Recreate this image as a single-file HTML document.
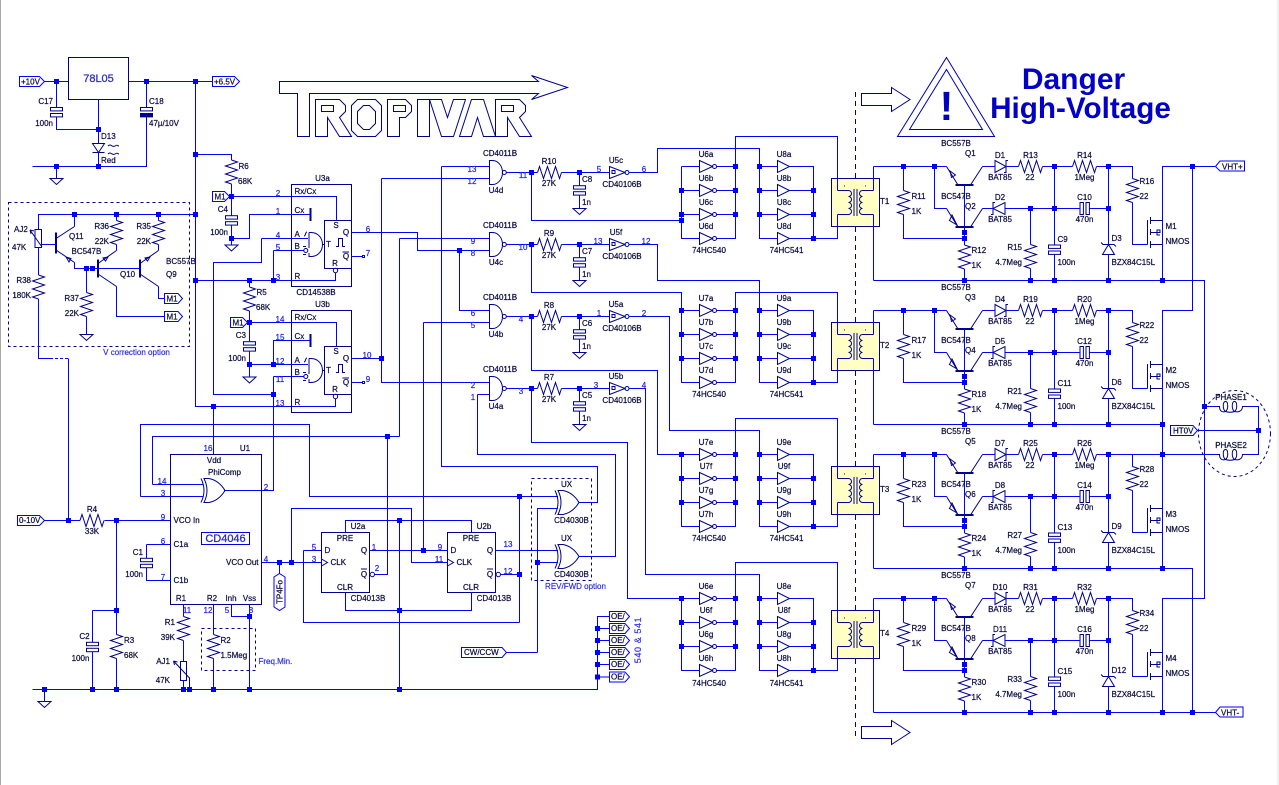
<!DOCTYPE html>
<html><head><meta charset="utf-8"><title>Tropivar schematic</title>
<style>
html,body{margin:0;padding:0;background:#fff}
svg{display:block}
text{font-family:"Liberation Sans",sans-serif;font-size:8px;fill:#0c0c40;stroke:#0c0c40;stroke-width:.22px}
.m{text-anchor:middle}.e{text-anchor:end}
.p text,text.p{fill:#2525e0;stroke:#2525e0}
text.b{fill:#3535e0;stroke:#3535e0}
.w{stroke:#00f;fill:none}
.c{stroke:#00008c;fill:none}
.cw{stroke:#00008c;fill:#fff}
.t{stroke:#00f;fill:#fff}
.d{stroke:#00f;stroke-width:5;stroke-linecap:square;fill:none}
.h{stroke:#00008c;stroke-dasharray:3 3;fill:none}
</style></head><body>
<svg xmlns="http://www.w3.org/2000/svg" width="1279" height="785" viewBox="0 0 1279 785">
<defs>
<path id="rh" class="c" d="M0 0l2-6 4 12 4-12 4 12 4-12 4 12 2-6"/>
<path id="rv" class="c" d="M0 0l6 2-12 4 12 4-12 4 12 4-12 4 6 2"/>
<g id="cv"><rect class="c" x="-6" y="0" width="12" height="3.4"/><rect class="c" x="-6" y="6" width="12" height="3.4"/></g>
<path id="g" class="c" d="M-6.5 0H6.5L0 6Z"/>
<g id="nand"><path class="c" d="M0 0H3C9 0 13 6 13 12S9 24 3 24H0Z"/><circle class="c" cx="14.8" cy="12" r="2"/></g>
<g id="inv"><path class="c" d="M0-6L13 0 0 6Z"/><circle class="c" cx="15" cy="0" r="2"/></g>
<path id="buf" class="c" d="M0-6L12 0 0 6Z"/>
<g id="sch"><path class="c" d="M0-6L15.5 0 0 6Z"/><rect class="c" x="2.5" y="-2" width="3" height="3"/><circle class="c" cx="17.5" cy="0" r="2"/></g>
<g id="xor"><path class="c" d="M0-12Q6 0 0 12M3-12H8Q18-10 24 0 18 10 8 12H3Q9 0 3-12Z"/></g>
<path id="oe" class="t" d="M609.5 611.5H625L629.5 616.5 625 621.5H609.5Z"/>
<path id="coil" class="c" d="M0 0H3C3 5 6 6 9 5 12 3 12-5 9-5 6-5 6 3 9 5 12 6 15 6 18 5 21 3 21-5 18-5 15-5 15 3 18 5 21 6 26 5 26 0H29"/>
<g id="nr">
<use href="#nand" x="489.5" y="160.5"/>
<use href="#rh" x="537.5" y="172.5"/>
<use href="#cv" x="579.5" y="185.7"/>
<use href="#g" x="579.5" y="208.5"/>
<use href="#sch" x="609.5" y="172.5"/>
<path class="w" d="M506.5 172.5H537.5M561.5 172.5H609.5M579.5 172.5V185.7M579.5 195V208.5"/>
<path class="d" d="M531.5 172.5h0M579.5 172.5h0"/>
</g>
<g id="bg">
<use href="#inv" x="699.5" y="0"/><use href="#inv" x="699.5" y="24"/><use href="#inv" x="699.5" y="48"/><use href="#inv" x="699.5" y="72"/>
<use href="#buf" x="777.5" y="0"/><use href="#buf" x="777.5" y="24"/><use href="#buf" x="777.5" y="48"/><use href="#buf" x="777.5" y="72"/>
<path class="w" d="M681.5 0V72H699.5M681.5 0H699.5M681.5 24H699.5M681.5 48H699.5M716.5 0H735.5V72H716.5M716.5 24H735.5M716.5 48H735.5M759.5 0V72H777.5M759.5 0H777.5M759.5 24H777.5M759.5 48H777.5M789.5 0H813.5V72H789.5M789.5 24H813.5M789.5 48H813.5M813.5 72H837.5V48"/>
<path class="d" d="M681.5 24h0M681.5 48h0M735.5 0h0M735.5 24h0M735.5 48h0M759.5 0h0M759.5 24h0M759.5 48h0M813.5 24h0M813.5 48h0M813.5 72h0"/>
</g>
<g id="tr">
<rect x="831.5" y="178.5" width="48" height="48" fill="#ffffc4" stroke="#00008c"/>
<path class="c" d="M837.5 190.5H848.5M837.5 214.5H848.5M862.5 190.5H873.5M862.5 214.5H873.5"/>
<path class="c" d="M848.5 190.5a3 3 0 0 1 0 6a3 3 0 0 1 0 6a3 3 0 0 1 0 6a3 3 0 0 1 0 6M862.5 190.5a3 3 0 0 0 0 6a3 3 0 0 0 0 6a3 3 0 0 0 0 6a3 3 0 0 0 0 6"/>
<path class="c" d="M854 189V216M857 189V216M844 186h1M865 186h1"/>
<path class="w" d="M837.5 178.5V190.5M837.5 214.5V226.5M873.5 178.5V190.5M873.5 214.5V226.5"/>
</g>
<g id="qr">
<path class="c" d="M946.5 166.5L958 185M970.5 185L982.5 166.5M946.5 208.5L958 227M970.5 227L982.5 208.5"/>
<path class="c" stroke-width="2" d="M955.5 185H973.5M955.5 227H973.5"/>
<path class="c" d="M950 171L955.5 175 951.5 177.5ZM952 215L957 225 949.5 220.5Z"/>
<use href="#rh" x="1018.5" y="166.5"/><use href="#rh" x="1072.5" y="166.5"/>
<use href="#rv" x="1132.5" y="178.5"/><use href="#rv" x="903.5" y="190.5"/><use href="#rv" x="964.5" y="245"/><use href="#rv" x="1030.5" y="244.5"/>
<use href="#cv" x="1054.5" y="245"/>
<path class="c" d="M995 160.5V172.5L1006 166.5ZM1008 160.5H1006V172.5H1004M1005 202.5V214.5L993 208.5ZM991 214.5H993V202.5H995"/>
<path class="c" d="M1080 202.5h3.4v12h-3.4zM1086 202.5h3.4v12h-3.4zM1102.5 254.5H1114.5L1108.5 244.5ZM1101 242.5L1103 244.5H1114L1116 246.5"/>
<path class="c" d="M1147.5 220V244.5M1150.5 217V224M1150.5 229V235M1150.5 241V248M1150.5 220.5H1162.5M1150.5 232.5H1160V230H1157V235H1160M1150.5 244.5H1162.5"/>
<path class="w" d="M873.5 166.5H946.5M982.5 166.5H995M1006 166.5H1018.5M1042.5 166.5H1072.5M1096.5 166.5H1132.5V178.5M1132.5 202.5V244.5H1147.5M903.5 166.5V190.5M903.5 214.5V238.5H964.5M934.5 166.5V208.5H946.5M964.5 185V245M964.5 269V280.5M982.5 208.5H993M1005 208.5H1080M1089.5 208.5H1108.5M1030.5 208.5V244.5M1030.5 268.5V280.5M1054.5 166.5V245M1054.5 254.5V280.5M1108.5 166.5V244.5M1108.5 254.5V280.5M873.5 280.5H1162.5M1162.5 220.5V280.5"/>
<path class="d" d="M903.5 166.5h0M934.5 166.5h0M1054.5 166.5h0M1108.5 166.5h0M1030.5 208.5h0M1054.5 208.5h0M1108.5 208.5h0M964.5 232.5h0M964.5 238.5h0M964.5 280.5h0M1030.5 280.5h0M1054.5 280.5h0M1108.5 280.5h0M1162.5 280.5h0"/>
</g>
<g id="ms">
<rect class="c" x="291.5" y="184.5" width="60" height="102"/>
<rect class="c" x="324.5" y="220.5" width="27" height="48"/>
<path class="c" d="M309 232.5H311C318 232.5 322.5 238 322.5 244.5S318 256.5 311 256.5H309V253M309 248V232.5M322.5 244.5H324.5M304 236c2 0 1-4 3-4M303 246.5h3M303 254.5h3M336 246.5h2.5v-8h4v8h2.5M342.5 252H349"/>
<circle class="c" cx="305.8" cy="250.5" r="2"/>
<circle class="c" cx="335.5" cy="270.5" r="2.2"/>
<path class="c" stroke-width="2" d="M310.5 208V221"/>
<rect class="w" x="362.5" y="255.5" width="2" height="2"/>
</g>
<g id="ff">
<rect class="c" x="321.5" y="532.5" width="48" height="60"/>
<path class="c" d="M321.5 559L327.5 562.5 321.5 566M361 569H367"/>
<circle class="c" cx="372.3" cy="574.5" r="2.2"/>
</g>
</defs>

<rect x="0" y="0" width="1" height="785" fill="#a8a8a8"/>
<rect x="1277" y="0" width="2" height="785" fill="#f0f0f0"/>

<!-- dashed isolation and options -->
<path stroke="#00008c" stroke-dasharray="5 4" fill="none" d="M855.5 92V737"/>
<rect class="h" x="8.5" y="202.5" width="181" height="144"/>
<rect class="h" x="201.5" y="628.5" width="54" height="42"/>
<rect class="h" x="531.5" y="478.5" width="60" height="102"/>
<ellipse class="h" cx="1234.5" cy="433.5" rx="36" ry="43"/>

<!-- logo -->
<g class="c">
<path class="c" d="M279.5 81.5H538.5L531.5 75.5 567.5 87.5 531.5 99.5 538.5 93.5H309.5V136.5H297.5V93.5H279.5Z"/>
<path class="c" id="lr" d="M315.5 99.5H339.5L345.5 105.5V111.5L339.5 117.5 351.5 136.5H339.5L327.5 117.5V136.5H315.5ZM321.5 105.5h12v6h-12Z"/>
<path class="c" d="M357.5 99.5H375.5L381.5 105.5V130.5L375.5 136.5H357.5L351.5 130.5V105.5ZM363.5 105.5H369.5L375.5 111.5V123.5L369.5 129.5H363.5L357.5 123.5V111.5Z"/>
<path class="c" d="M387.5 99.5H405.5L411.5 105.5V111.5L405.5 117.5H399.5V136.5H387.5ZM393.5 105.5h12v6h-12Z"/>
<path class="c" d="M417.5 99.5h12v37h-12Z"/>
<path class="c" d="M429.5 99.5H441.5L447.5 117.5 453.5 99.5H465.5L453.5 136.5H441.5Z"/>
<path class="c" d="M459.5 136.5L471.5 99.5H483.5L495.5 136.5H483.5L477.5 117.5 471.5 136.5Z"/>
<path class="c" d="M495.5 99.5H519.5L525.5 105.5V111.5L519.5 117.5 531.5 136.5H519.5L507.5 117.5V136.5H495.5ZM501.5 105.5h12v6h-12Z"/>
</g>

<!-- warning -->
<path fill="none" stroke="#0000b4" d="M946.5 57.5L994.5 136.5H897.5ZM946.5 69.5L982.5 129.5H909.5Z"/>
<path fill="none" stroke="#00008c" d="M861.5 93.5H891.5V87.5L910 99.5 891.5 111.5V105.5H861.5Z"/>
<path fill="none" stroke="#00008c" d="M861.5 726.5H891.5V720.5L910 732.5 891.5 744.5V738.5H861.5Z"/>

<!-- power section -->
<rect class="c" x="68.5" y="57.5" width="60" height="42"/>
<use href="#cv" x="56.5" y="107.5"/>
<rect x="140.5" y="107.5" width="12" height="3.4" class="c"/>
<rect x="140.5" y="113.5" width="12" height="3.4" fill="#00008c" stroke="#00008c"/>
<path class="c" d="M92.5 143.5H104.5L98.5 152.5ZM92.5 152.5H104.5M108 146c3-3 4 2 7 0s2 0 4 0M108 154c3-3 4 2 7 0s2 0 4 0"/>
<use href="#g" x="56.5" y="178.5"/>
<path class="w" d="M44.5 81.5H68.5M56.5 81.5V107.5M56.5 117V129.5H98.5M98.5 99.5V143.5M98.5 152.5V166.5M32.5 166.5H146.5V117M146.5 81.5V107.5M128.5 81.5H212.5M56.5 166.5V178.5M195.5 81.5V406.5H335.5V399M195.5 154.5H231.5V160"/>
<path class="d" d="M56.5 81.5h0M146.5 81.5h0M195.5 81.5h0M98.5 129.5h0M56.5 166.5h0M98.5 166.5h0M195.5 154.5h0M195.5 214.5h0M195.5 280.5h0M213.5 406.5h0"/>
<path class="t" d="M19.5 76.5H39.5L44.5 81.5 39.5 86.5H19.5Z"/>
<path class="t" d="M212.5 76.5H234.5L239.5 81.5 234.5 86.5H212.5Z"/>

<!-- monostables -->
<use href="#ms"/><use href="#ms" y="126"/>
<use href="#rv" x="231.5" y="160"/><use href="#cv" x="231.5" y="215.7"/><use href="#g" x="231.5" y="245"/>
<use href="#rv" x="249.5" y="287"/><use href="#cv" x="249.5" y="341.7"/><use href="#g" x="249.5" y="377"/>
<path class="w" d="M231.5 184V215.7M231.5 225V245M229.5 196.5H336.5V220.5M231.5 238.5H249.5V214.5H309.5M261.5 238.5H308M261.5 238.5V262.5H213.5V394.5H273.5M273.5 250.5H303.5M273.5 250.5V280.5M195.5 280.5H335.5V273M351.5 232.5H417.5V250.5H489.5M351.5 256.5H362.5M249.5 280.5V287M249.5 311V341.7M249.5 351V377M247 322.5H336.5V346.5M249.5 364.5H308M273.5 364.5V340.5H309.5M273.5 376.5H303.5M273.5 376.5V490.5H224M351.5 358.5H381.5M351.5 382.5H362.5M195.5 214.5H38.5V229.5"/>
<path class="d" d="M231.5 196.5h0M231.5 238.5h0M249.5 280.5h0M273.5 280.5h0M249.5 322.5h0M249.5 364.5h0M273.5 364.5h0M273.5 394.5h0M381.5 358.5h0"/>
<path class="t" d="M212.5 191.5H224.5L229.5 196.5 224.5 201.5H212.5Z"/>
<path class="t" d="M230.5 317.5H242.5L247.5 322.5 242.5 327.5H230.5Z"/>

<!-- V correction -->
<rect class="c" x="35" y="229.5" width="6.5" height="18"/>
<path class="c" d="M30 230L42 247M30 230l1 4M30 230l4 1"/>
<use href="#rv" x="38.5" y="275"/><use href="#rv" x="116.5" y="220.5"/><use href="#rv" x="158.5" y="220.5"/><use href="#rv" x="86.5" y="292.5"/>
<use href="#g" x="86.5" y="334.5"/>
<path class="c" stroke-width="2" d="M56 232.5V253.5M98 259.5V277.5M140 259.5V277.5"/>
<path class="c" d="M56 238.5L74.5 226.5M56 250L74.5 262.5M98 263.5L116.5 250.5M98 274L116.5 286.5M140 263.5L158.5 250.5M140 274L158.5 286.5M66 257l5 1.5-2 3.5ZM103 258l5-1-2.5 4ZM145 258l5-1-2.5 4Z"/>
<path class="w" d="M38.5 247.5V275M38.5 299V358.5H50M41.5 244.5H56M74.5 214.5V226.5M74.5 262.5V268.5H140M116.5 214.5V220.5M116.5 244.5V250.5M158.5 214.5V220.5M158.5 244.5V250.5M116.5 286.5V316.5H164.5M158.5 286.5V298.5H164.5M86.5 268.5V292.5M86.5 316.5V334.5M68.5 358.5V520.5"/>
<path class="w" stroke-dasharray="3 2" d="M50 358.5H68.5"/>
<path class="d" d="M74.5 214.5h0M116.5 214.5h0M158.5 214.5h0M86.5 268.5h0M92.5 268.5h0"/>
<path class="t" d="M164.5 293.5H178L182.5 298.5 178 303.5H164.5Z"/>
<path class="t" d="M164.5 311.5H178L182.5 316.5 178 321.5H164.5Z"/>

<!-- CD4046 -->
<rect class="c" x="170.5" y="454.5" width="91" height="150"/>
<rect x="201.5" y="532.5" width="48" height="12" fill="none" stroke="#0000e0"/>
<use href="#xor" x="201" y="490.5"/>
<use href="#rh" x="80" y="520.5"/>
<use href="#cv" x="146.5" y="558.3"/><use href="#cv" x="92.5" y="642.3"/>
<use href="#rv" x="116.5" y="634.5"/><use href="#rv" x="183.5" y="616.5"/><use href="#rv" x="213.5" y="634.5"/>
<rect class="c" x="180.5" y="661.5" width="6" height="19"/>
<path class="c" d="M173.5 661L189.5 678V689.5M173.5 661l1 4M173.5 661l4 1"/>
<use href="#g" x="44.5" y="701.5"/>
<path class="t" d="M17.5 515.5H39.5L44.5 520.5 39.5 525.5H17.5Z"/>
<path class="t" d="M279.5 573.5L285 577V607L279.5 610.5 274 607V577Z"/>
<path class="w" d="M44.5 520.5H80M104.5 520.5H170.5M146.5 544.5H170.5M146.5 544.5V558.3M146.5 567.7V580.5H170.5M116.5 520.5V634.5M116.5 658.5V689.5M92.5 610.5H116.5M92.5 610.5V642.3M92.5 651.7V689.5M32.5 689.5H597.5V616.5H609.5M44.5 689.5V701.5M597.5 628.5H609.5M597.5 640.5H609.5M597.5 652.5H609.5M597.5 664.5H609.5M597.5 677H609.5M183.5 604.5V616.5M183.5 640.5V661.5M183.5 680.5V689.5M213.5 604.5V634.5M213.5 658.5V689.5M231.5 604.5V616.5H249.5M249.5 604.5V689.5M213.5 406.5V454.5M140.5 496.5H203M140.5 496.5V424.5H309.5V496.5H558M152.5 484.5H203M152.5 484.5V436.5H399.5"/>
<path class="d" d="M68.5 520.5h0M116.5 520.5h0M116.5 610.5h0M44.5 689.5h0M92.5 689.5h0M116.5 689.5h0M183.5 689.5h0M189.5 689.5h0M213.5 689.5h0M249.5 689.5h0M249.5 616.5h0M399.5 689.5h0"/>

<!-- flip flops -->
<use href="#ff"/><use href="#ff" x="126"/>
<use href="#xor" x="555" y="502.5"/><use href="#xor" x="555" y="556.5"/>
<path class="w" d="M261.5 562.5H321.5M279.5 562.5V573.5M291.5 562.5V508.5H411.5V562.5H447.5M303.5 550.5H321.5M303.5 550.5V622.5H519.5M519.5 496.5V622.5M369.5 550.5H447.5M423.5 322.5V550.5M374.5 574.5H387.5V436.5M345.5 532.5V520.5H471.5V532.5M345.5 592.5V610.5H471.5V592.5M399.5 520.5V689.5M399.5 238.5V436.5M495.5 550.5H558M500.5 574.5H519.5M537.5 652.5V508.5H558M537.5 562.5H558M506.5 652.5H537.5M441.5 166.5V466.5H597.5V502.5H579M477.5 394.5V454.5H615.5V556.5H579"/>
<path class="d" d="M279.5 562.5h0M291.5 562.5h0M387.5 436.5h0M423.5 550.5h0M399.5 520.5h0M399.5 610.5h0M519.5 496.5h0M519.5 574.5h0M537.5 562.5h0M597.5 628.5h0M597.5 640.5h0M597.5 652.5h0M597.5 664.5h0M597.5 677h0"/>
<path class="t" d="M461.5 647.5H502L506.5 652.5 502 657.5H461.5Z"/>
<use href="#oe"/><use href="#oe" y="12"/><use href="#oe" y="24"/><use href="#oe" y="36"/><use href="#oe" y="48"/><use href="#oe" y="60.5"/>

<!-- NAND rows -->
<use href="#nr"/><use href="#nr" y="72"/><use href="#nr" y="144"/><use href="#nr" y="216"/>
<path class="w" d="M441.5 166.5H489.5M381.5 178.5H489.5M381.5 178.5V382.5H489.5M399.5 238.5H489.5M459.5 250.5V310.5H489.5M423.5 322.5H489.5M477.5 394.5H489.5M531.5 172.5V220.5H681.5M531.5 244.5V292.5H681.5V310.5M531.5 316.5V370.5H657.5V454.5H681.5M531.5 388.5V442.5H627.5V598.5H681.5M629.5 172.5H657.5V148.5H759.5V166.5M629.5 244.5H657.5V280.5H759.5V310.5M629.5 316.5H669.5V430.5H759.5V454.5M629.5 388.5H645.5V574.5H759.5V598.5"/>
<path class="d" d="M459.5 250.5h0M681.5 220.5h0M681.5 310.5h0M681.5 454.5h0M681.5 598.5h0"/>

<!-- transformers -->
<use href="#tr"/><use href="#tr" y="144"/><use href="#tr" y="288"/><use href="#tr" y="432"/>
<use href="#bg" y="166.5"/><use href="#bg" y="310.5"/><use href="#bg" y="454.5"/><use href="#bg" y="598.5"/>
<path class="w" d="M735.5 166.5V136.5H837.5V178.5M735.5 310.5V292.5H837.5V322.5M735.5 454.5V418.5H837.5V466.5M735.5 598.5V562.5H837.5V610.5M837.5 226.5V238.5M837.5 370.5V382.5M837.5 514.5V526.5M837.5 658.5V670.5M873.5 178.5V166.5M873.5 322.5V310.5M873.5 466.5V454.5M873.5 610.5V598.5M873.5 226.5V280.5M873.5 370.5V424.5M873.5 514.5V568.5M873.5 658.5V712.5"/>

<!-- driver rows -->
<use href="#qr"/><use href="#qr" y="144"/><use href="#qr" y="288"/><use href="#qr" y="432"/>
<path class="w" d="M1162.5 220.5V166.5H1215M1192.5 166.5V310.5H1162.5V364.5M1162.5 280.5H1204.5V598.5H1162.5V652.5M1162.5 424.5V508.5M1108.5 454.5H1216.5M1162.5 568.5H1192.5V712.5M1162.5 712.5H1215.5M1204.5 406.5H1216.5M1245.5 406.5H1258.5V454.5H1245.5M1197.5 430.5H1258.5"/>
<path class="d" d="M1192.5 166.5h0M1162.5 454.5h0M1204.5 406.5h0M1258.5 430.5h0M1192.5 712.5h0"/>
<use href="#coil" x="1216.5" y="406.5"/>
<use href="#coil" x="1216.5" y="454.5"/>
<path class="t" d="M1215.5 166.5L1220 161H1244.5V171H1220Z"/>
<path class="t" d="M1215.5 712.5L1220 707H1243V717H1220Z"/>
<path class="t" d="M1170.5 425.5H1193L1197.5 430.5 1193 435.5H1170.5Z"/>

<!-- TEXT -->
<text x="21" y="84.5">+10V</text><text x="214" y="84.5">+6.5V</text>
<text x="98.5" y="82" class="m" style="font-size:11px;fill:#3030c4;stroke:#3030c4;stroke-width:.3px">78L05</text>
<text x="53" y="104" class="e">C17</text><text x="53" y="126" class="e">100n</text>
<text x="149" y="104">C18</text><text x="149" y="126">47µ/10V</text>
<text x="101" y="139">D13</text><text x="101" y="163">Red</text>
<text x="238.5" y="169">R6</text><text x="238" y="184">68K</text>
<text x="228" y="212" class="e">C4</text><text x="228" y="235" class="e">100n</text>
<text x="214.5" y="199.5">M1</text><text x="232.5" y="325.5">M1</text>
<text x="166.5" y="301.5">M1</text><text x="166.5" y="319.5">M1</text>
<text x="322.5" y="181" class="m">U3a</text>
<text x="294.5" y="194">Rx/Cx</text><text x="294.5" y="213">Cx</text><text x="294.5" y="237">A</text><text x="294.5" y="249">B</text><text x="294.5" y="279">R</text>
<text x="336" y="228" class="m">S</text><text x="346" y="235" class="m">Q</text><text x="328.5" y="247" class="m">T</text><text x="346" y="259" class="m">Q</text><text x="335" y="266" class="m">R</text>
<text x="316" y="295" class="m">CD14538B</text>
<text x="256.5" y="295">R5</text><text x="256" y="310">68K</text>
<text x="246" y="338" class="e">C3</text><text x="246" y="361" class="e">100n</text>
<text x="322.5" y="307" class="m">U3b</text>
<text x="294.5" y="320">Rx/Cx</text><text x="294.5" y="339">Cx</text><text x="294.5" y="363">A</text><text x="294.5" y="375">B</text><text x="294.5" y="405">R</text>
<text x="336" y="354" class="m">S</text><text x="346" y="361" class="m">Q</text><text x="328.5" y="373" class="m">T</text><text x="346" y="385" class="m">Q</text><text x="335" y="392" class="m">R</text>
<g class="p">
<text x="278" y="196" class="m">2</text><text x="278" y="214" class="m">1</text><text x="278" y="238" class="m">4</text><text x="278" y="250" class="m">5</text><text x="278" y="280" class="m">3</text>
<text x="368" y="232" class="m">6</text><text x="368" y="256" class="m">7</text>
<text x="280" y="322" class="m">14</text><text x="280" y="340" class="m">15</text><text x="280" y="364" class="m">12</text><text x="280" y="382" class="m">11</text><text x="280" y="406" class="m">13</text>
<text x="367" y="358" class="m">10</text><text x="368" y="382" class="m">9</text>
<text x="208" y="451" class="m">16</text><text x="162" y="484" class="m">14</text><text x="163" y="496" class="m">3</text><text x="266" y="490" class="m">2</text><text x="163" y="520" class="m">9</text><text x="163" y="544" class="m">6</text><text x="163" y="580" class="m">7</text><text x="266" y="562" class="m">4</text>
<text x="187" y="613" class="m">11</text><text x="208" y="613" class="m">12</text><text x="227" y="613" class="m">5</text><text x="251" y="613" class="m">8</text>
<text x="314" y="550" class="m">5</text><text x="314" y="562" class="m">3</text><text x="374" y="550" class="m">1</text><text x="377" y="571" class="m">2</text>
<text x="440" y="550" class="m">9</text><text x="439" y="562" class="m">11</text><text x="508" y="547" class="m">13</text><text x="508" y="574" class="m">12</text>
<text x="472" y="172" class="m">13</text><text x="472" y="184" class="m">12</text><text x="523" y="178" class="m">11</text><text x="599" y="172" class="m">5</text><text x="644" y="172" class="m">6</text>
<text x="473" y="244" class="m">9</text><text x="473" y="256" class="m">8</text><text x="523" y="250" class="m">10</text><text x="598" y="244" class="m">13</text><text x="646" y="244" class="m">12</text>
<text x="473" y="316" class="m">6</text><text x="473" y="328" class="m">5</text><text x="521" y="322" class="m">4</text><text x="599" y="316" class="m">1</text><text x="644" y="316" class="m">2</text>
<text x="473" y="388" class="m">2</text><text x="473" y="400" class="m">1</text><text x="521" y="394" class="m">3</text><text x="596" y="388" class="m">3</text><text x="644" y="388" class="m">4</text>
</g>
<text x="14" y="232">AJ2</text><text x="12" y="250">47K</text>
<text x="69" y="239">Q11</text><text x="71.5" y="254">BC547B</text>
<text x="109" y="229" class="e">R36</text><text x="109" y="244" class="e">22K</text>
<text x="151" y="229" class="e">R35</text><text x="151" y="244" class="e">22K</text>
<text x="166" y="264">BC557B</text><text x="166" y="277">Q9</text><text x="120" y="277">Q10</text>
<text x="31" y="283" class="e">R38</text><text x="31" y="298" class="e">180K</text>
<text x="79" y="301" class="e">R37</text><text x="79" y="316" class="e">22K</text>
<text x="136.5" y="355" class="m b">V correction option</text>
<text x="245" y="451" class="m">U1</text><text x="214" y="463" class="m">Vdd</text><text x="224.5" y="475" class="m">PhiComp</text>
<text x="173.5" y="523">VCO In</text><text x="173.5" y="547">C1a</text><text x="173.5" y="583">C1b</text>
<text x="225.5" y="542" class="m" style="font-size:11px;fill:#2a2ac8;stroke:#2a2ac8;stroke-width:.3px">CD4046</text>
<text x="258.5" y="565" class="e">VCO Out</text>
<text x="181" y="601" class="m">R1</text><text x="212" y="601" class="m">R2</text><text x="231" y="601" class="m">Inh</text><text x="249.5" y="601" class="m">Vss</text>
<text x="143" y="555" class="e">C1</text><text x="143" y="577" class="e">100n</text>
<text x="19" y="523">0-10V</text>
<text x="92" y="512" class="m">R4</text><text x="92" y="534" class="m">33K</text>
<text x="84.5" y="639" class="m">C2</text><text x="80.5" y="661" class="m">100n</text>
<text x="124" y="643">R3</text><text x="124" y="658">68K</text>
<text x="175" y="625" class="e">R1</text><text x="175" y="640" class="e">39K</text>
<text x="170" y="664" class="e">AJ1</text><text x="170" y="683" class="e">47K</text>
<text x="220.5" y="643">R2</text><text x="220.5" y="658">1.5Meg</text>
<text x="258.5" y="664" class="b">Freq.Min.</text>
<text transform="translate(282.5 592) rotate(-90)" class="m">TP4Fo</text>
<text x="358" y="529" class="m">U2a</text><text x="484" y="529" class="m">U2b</text>
<text x="345" y="541" class="m">PRE</text><text x="471" y="541" class="m">PRE</text>
<text x="324.5" y="553">D</text><text x="450.5" y="553">D</text>
<text x="330.5" y="565">CLK</text><text x="456.5" y="565">CLK</text>
<text x="364" y="553" class="m">Q</text><text x="490" y="553" class="m">Q</text>
<text x="364" y="577" class="m">Q</text><text x="490" y="577" class="m">Q</text>
<text x="345" y="590" class="m">CLR</text><text x="471" y="590" class="m">CLR</text>
<text x="368" y="601" class="m">CD4013B</text><text x="494" y="601" class="m">CD4013B</text>
<text x="566.5" y="487" class="m">UX</text><text x="571.5" y="523" class="m">CD4030B</text>
<text x="566.5" y="541" class="m">UX</text><text x="571.5" y="577" class="m">CD4030B</text>
<text x="575.5" y="589" class="m b">REV/FWD option</text>
<text x="464" y="655">CW/CCW</text>
<text x="611" y="619">OE/</text><text x="611" y="631">OE/</text><text x="611" y="643">OE/</text><text x="611" y="655">OE/</text><text x="611" y="667">OE/</text><text x="611" y="679.5">OE/</text>
<text transform="translate(641 640) rotate(-90)" class="m b" style="font-size:9px;letter-spacing:.6px">540 &amp; 541</text>

<text x="500" y="156" class="m">CD4011B</text><text x="496" y="193" class="m">U4d</text><text x="549" y="164" class="m">R10</text><text x="549" y="186" class="m">27K</text><text x="582" y="182">C8</text><text x="582" y="205">1n</text><text x="616" y="163" class="m">U5c</text><text x="622" y="187" class="m">CD40106B</text>
<text x="500" y="228" class="m">CD4011B</text><text x="496" y="265" class="m">U4c</text><text x="549" y="236" class="m">R9</text><text x="549" y="258" class="m">27K</text><text x="582" y="254">C7</text><text x="582" y="277">1n</text><text x="616" y="235" class="m">U5f</text><text x="622" y="259" class="m">CD40106B</text>
<text x="500" y="300" class="m">CD4011B</text><text x="496" y="337" class="m">U4b</text><text x="549" y="308" class="m">R8</text><text x="549" y="330" class="m">27K</text><text x="582" y="326">C6</text><text x="582" y="349">1n</text><text x="616" y="307" class="m">U5a</text><text x="622" y="331" class="m">CD40106B</text>
<text x="500" y="372" class="m">CD4011B</text><text x="496" y="409" class="m">U4a</text><text x="549" y="380" class="m">R7</text><text x="549" y="402" class="m">27K</text><text x="582" y="398">C5</text><text x="582" y="421">1n</text><text x="616" y="379" class="m">U5b</text><text x="622" y="403" class="m">CD40106B</text>

<text x="706" y="157" class="m">U6a</text><text x="706" y="181" class="m">U6b</text><text x="706" y="205" class="m">U6c</text><text x="706" y="229" class="m">U6d</text><text x="709" y="253" class="m">74HC540</text>
<text x="784" y="157" class="m">U8a</text><text x="784" y="181" class="m">U8b</text><text x="784" y="205" class="m">U8c</text><text x="784" y="229" class="m">U8d</text><text x="786.5" y="253" class="m">74HC541</text>
<text x="706" y="301" class="m">U7a</text><text x="706" y="325" class="m">U7b</text><text x="706" y="349" class="m">U7c</text><text x="706" y="373" class="m">U7d</text><text x="709" y="397" class="m">74HC540</text>
<text x="784" y="301" class="m">U9a</text><text x="784" y="325" class="m">U9b</text><text x="784" y="349" class="m">U9c</text><text x="784" y="373" class="m">U9d</text><text x="786.5" y="397" class="m">74HC541</text>
<text x="706" y="445" class="m">U7e</text><text x="706" y="469" class="m">U7f</text><text x="706" y="493" class="m">U7g</text><text x="706" y="517" class="m">U7h</text><text x="709" y="541" class="m">74HC540</text>
<text x="784" y="445" class="m">U9e</text><text x="784" y="469" class="m">U9f</text><text x="784" y="493" class="m">U9g</text><text x="784" y="517" class="m">U9h</text><text x="786.5" y="541" class="m">74HC541</text>
<text x="706" y="589" class="m">U6e</text><text x="706" y="613" class="m">U6f</text><text x="706" y="637" class="m">U6g</text><text x="706" y="661" class="m">U6h</text><text x="709" y="686" class="m">74HC540</text>
<text x="784" y="589" class="m">U8e</text><text x="784" y="613" class="m">U8f</text><text x="784" y="637" class="m">U8g</text><text x="784" y="661" class="m">U8h</text><text x="786.5" y="686" class="m">74HC541</text>

<text x="880" y="204">T1</text><text x="880" y="348">T2</text><text x="880" y="492">T3</text><text x="880" y="636">T4</text>

<g>
<text x="956" y="146" class="m">BC557B</text><text x="965" y="156">Q1</text><text x="1000" y="158" class="m">D1</text><text x="1000" y="180" class="m">BAT85</text><text x="1030.5" y="158" class="m">R13</text><text x="1030" y="180" class="m">22</text><text x="1084.5" y="158" class="m">R14</text><text x="1084.5" y="180" class="m">1Meg</text><text x="1139.5" y="184">R16</text><text x="1139.5" y="199">22</text><text x="956" y="199" class="m">BC547B</text><text x="965" y="209">Q2</text><text x="1000" y="200" class="m">D2</text><text x="1000" y="222" class="m">BAT85</text><text x="1084.5" y="200" class="m">C10</text><text x="1084.5" y="222" class="m">470n</text><text x="911.5" y="199">R11</text><text x="911.5" y="214">1K</text><text x="971.5" y="253">R12</text><text x="971.5" y="268">1K</text><text x="1022" y="250" class="e">R15</text><text x="1022" y="265" class="e">4.7Meg</text><text x="1057.5" y="242">C9</text><text x="1057.5" y="265">100n</text><text x="1111.5" y="241">D3</text><text x="1111.5" y="265">BZX84C15L</text><text x="1165.5" y="229">M1</text><text x="1165.5" y="244">NMOS</text>
</g>
<g transform="translate(0 144)">
<text x="956" y="146" class="m">BC557B</text><text x="965" y="156">Q3</text><text x="1000" y="158" class="m">D4</text><text x="1000" y="180" class="m">BAT85</text><text x="1030.5" y="158" class="m">R19</text><text x="1030" y="180" class="m">22</text><text x="1084.5" y="158" class="m">R20</text><text x="1084.5" y="180" class="m">1Meg</text><text x="1139.5" y="184">R22</text><text x="1139.5" y="199">22</text><text x="956" y="199" class="m">BC547B</text><text x="965" y="209">Q4</text><text x="1000" y="200" class="m">D5</text><text x="1000" y="222" class="m">BAT85</text><text x="1084.5" y="200" class="m">C12</text><text x="1084.5" y="222" class="m">470n</text><text x="911.5" y="199">R17</text><text x="911.5" y="214">1K</text><text x="971.5" y="253">R18</text><text x="971.5" y="268">1K</text><text x="1022" y="250" class="e">R21</text><text x="1022" y="265" class="e">4.7Meg</text><text x="1057.5" y="242">C11</text><text x="1057.5" y="265">100n</text><text x="1111.5" y="241">D6</text><text x="1111.5" y="265">BZX84C15L</text><text x="1165.5" y="229">M2</text><text x="1165.5" y="244">NMOS</text>
</g>
<g transform="translate(0 288)">
<text x="956" y="146" class="m">BC557B</text><text x="965" y="156">Q5</text><text x="1000" y="158" class="m">D7</text><text x="1000" y="180" class="m">BAT85</text><text x="1030.5" y="158" class="m">R25</text><text x="1030" y="180" class="m">22</text><text x="1084.5" y="158" class="m">R26</text><text x="1084.5" y="180" class="m">1Meg</text><text x="1139.5" y="184">R28</text><text x="1139.5" y="199">22</text><text x="956" y="199" class="m">BC547B</text><text x="965" y="209">Q6</text><text x="1000" y="200" class="m">D8</text><text x="1000" y="222" class="m">BAT85</text><text x="1084.5" y="200" class="m">C14</text><text x="1084.5" y="222" class="m">470n</text><text x="911.5" y="199">R23</text><text x="911.5" y="214">1K</text><text x="971.5" y="253">R24</text><text x="971.5" y="268">1K</text><text x="1022" y="250" class="e">R27</text><text x="1022" y="265" class="e">4.7Meg</text><text x="1057.5" y="242">C13</text><text x="1057.5" y="265">100n</text><text x="1111.5" y="241">D9</text><text x="1111.5" y="265">BZX84C15L</text><text x="1165.5" y="229">M3</text><text x="1165.5" y="244">NMOS</text>
</g>
<g transform="translate(0 432)">
<text x="956" y="146" class="m">BC557B</text><text x="965" y="156">Q7</text><text x="1000" y="158" class="m">D10</text><text x="1000" y="180" class="m">BAT85</text><text x="1030.5" y="158" class="m">R31</text><text x="1030" y="180" class="m">22</text><text x="1084.5" y="158" class="m">R32</text><text x="1084.5" y="180" class="m">1Meg</text><text x="1139.5" y="184">R34</text><text x="1139.5" y="199">22</text><text x="956" y="199" class="m">BC547B</text><text x="965" y="209">Q8</text><text x="1000" y="200" class="m">D11</text><text x="1000" y="222" class="m">BAT85</text><text x="1084.5" y="200" class="m">C16</text><text x="1084.5" y="222" class="m">470n</text><text x="911.5" y="199">R29</text><text x="911.5" y="214">1K</text><text x="971.5" y="253">R30</text><text x="971.5" y="268">1K</text><text x="1022" y="250" class="e">R33</text><text x="1022" y="265" class="e">4.7Meg</text><text x="1057.5" y="242">C15</text><text x="1057.5" y="265">100n</text><text x="1111.5" y="241">D12</text><text x="1111.5" y="265">BZX84C15L</text><text x="1165.5" y="229">M4</text><text x="1165.5" y="244">NMOS</text>
</g>
<text x="1222" y="169.5">VHT+</text><text x="1221" y="715.5">VHT-</text><text x="1173" y="433.5">HT0V</text>
<text x="1231" y="400" class="m">PHASE1</text><text x="1231" y="448" class="m">PHASE2</text>
<text x="946.5" y="120" class="m" style="font-size:41px;font-weight:bold;fill:#0000c0;stroke:none">!</text>
<text x="1073.5" y="89" class="m" style="font-size:30px;font-weight:bold;fill:#0000c8;stroke:none">Danger</text>
<text x="1080.5" y="118" class="m" style="font-size:29.7px;font-weight:bold;fill:#0000c8;stroke:none">High-Voltage</text>
</svg>
</body></html>
